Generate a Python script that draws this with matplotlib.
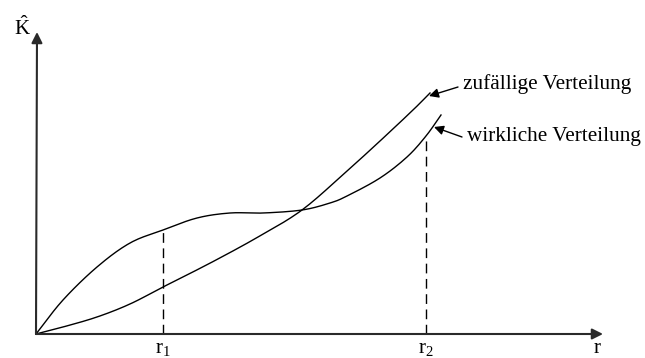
import matplotlib
matplotlib.use("Agg")
import matplotlib.pyplot as plt
import numpy as np

plt.rcParams['font.family'] = ['Liberation Serif', 'DejaVu Serif']
plt.rcParams['mathtext.fontset'] = 'custom'
plt.rcParams['mathtext.rm'] = 'Liberation Serif'
plt.rcParams['mathtext.it'] = 'Liberation Serif'

# Curve values (r, K-hat) (arbitrary units)
r_real = [0, 27, 61, 94, 127, 161, 194, 227, 266, 294, 311, 344, 371, 390, 405]
k_real = [0, 34, 67, 91, 104, 116, 121, 121, 124, 131, 138, 156, 177, 198, 219]
r_rand = [0, 27, 61, 94, 127, 143, 180, 222, 266, 311, 344, 377, 394]
k_rand = [0, 7, 17, 30, 47, 55, 74, 97, 124, 163, 193, 224, 241]

r_marks = [127, 390]
k_marks = [104, 198]
mark_labels = [r'$\mathrm{r_1}$', r'$\mathrm{r_2}$']

label_rand = 'zufällige Verteilung'
label_real = 'wirkliche Verteilung'
x_label = 'r'
y_label = r'$\hat{\mathrm{K}}$'


def smooth(xs, ys, n=12):
    """Catmull-Rom path through the read points (drawing only)."""
    p = np.column_stack([xs, ys]).astype(float)
    p = np.vstack([2 * p[0] - p[1], p, 2 * p[-1] - p[-2]])
    out = []
    t = np.linspace(0, 1, n, endpoint=False)[:, None]
    for i in range(1, len(p) - 2):
        p0, p1, p2, p3 = p[i - 1], p[i], p[i + 1], p[i + 2]
        seg = 0.5 * ((2 * p1) + (-p0 + p2) * t +
                     (2 * p0 - 5 * p1 + 4 * p2 - p3) * t ** 2 +
                     (-p0 + 3 * p1 - 3 * p2 + p3) * t ** 3)
        out.append(seg)
    out.append(p[-2][None, :])
    out = np.vstack(out)
    return out[:, 0], out[:, 1]


fig = plt.figure(figsize=(6.45, 3.58), dpi=100)
ax = fig.add_axes([0, 0, 1, 1])
ax.set_xlim(-36, 609)
ax.set_ylim(-24, 334)
ax.axis('off')

axis_color = '#2a2a2a'
ax.annotate('', xy=(567, 0), xytext=(0, 0),
            arrowprops=dict(arrowstyle='-|>', lw=1.5, color=axis_color,
                            mutation_scale=16, shrinkA=0, shrinkB=0))
ax.annotate('', xy=(1, 302), xytext=(0, 0),
            arrowprops=dict(arrowstyle='-|>', lw=1.5, color=axis_color,
                            mutation_scale=16, shrinkA=0, shrinkB=0))

xs, ys = smooth(r_real, k_real)
ax.plot(xs, ys, color='black', lw=1.0)
xs, ys = smooth(r_rand, k_rand)
ax.plot(xs, ys, color='black', lw=1.0)

for rm, km, lab in zip(r_marks, k_marks, mark_labels):
    ax.plot([rm, rm], [0, km], color='black', lw=1.0, linestyle=(0, (7, 4)))
    ax.text(rm, -23.5, lab, ha='center', va='bottom', fontsize=15)

ax.text(561, -5, x_label, ha='center', va='top', fontsize=15)
ax.text(-14, 306, y_label, ha='center', va='center', fontsize=15)

ax.annotate('', xy=(393, 238), xytext=(422, 247),
            arrowprops=dict(arrowstyle='-|>', lw=1.0, color='black',
                            mutation_scale=14, shrinkA=0, shrinkB=0))
ax.text(427, 250, label_rand, ha='left', va='center', fontsize=15.3)

ax.annotate('', xy=(398, 207), xytext=(426, 197),
            arrowprops=dict(arrowstyle='-|>', lw=1.0, color='black',
                            mutation_scale=14, shrinkA=0, shrinkB=0))
ax.text(431, 197, label_real, ha='left', va='center', fontsize=15.3)

fig.savefig('out.png', dpi=100)
